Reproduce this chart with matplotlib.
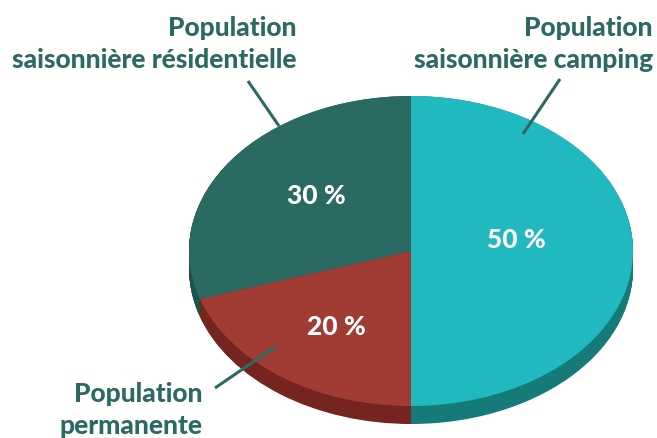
import numpy as np
import matplotlib.pyplot as plt

# données (parts de la population)
categories = ['Population\nsaisonnière camping', 'Population\npermanente',
              'Population\nsaisonnière résidentielle']
parts = [50, 20, 30]
etiquettes = ['50 %', '20 %', '30 %']

couleurs = ['#20b9c0', '#a13c34', '#2b6a62']
couleurs_cote = ['#167a78', '#76241f', '#1d524c']
texte_couleur = '#2b6a62'

W, H = 657, 439
cx, cy, rx, ry = 411, 252, 222, 155   # ellipse du dessus, en pixels
epaisseur = 18


def px(x, y):
    """pixels image -> unités du camembert"""
    return (x - cx) / rx, (cy - y) / ry


fig = plt.figure(figsize=(W / 100, H / 100), dpi=100)
ax = fig.add_axes([0, 0, 1, 1])

# côté du camembert (couches empilées)
for dz in np.linspace(epaisseur / ry, 0, 25):
    ax.pie(parts, colors=couleurs_cote, startangle=90, counterclock=False,
           center=(0, -dz), radius=1, wedgeprops=dict(linewidth=0))

# dessus
wedges, _ = ax.pie(parts, colors=couleurs, startangle=90, counterclock=False,
                   radius=1, wedgeprops=dict(linewidth=0))

ax.set_aspect('auto')
x0, y0 = px(0, H)
x1, y1 = px(W, 0)
ax.set_xlim(x0, x1)
ax.set_ylim(y0, y1)
ax.axis('off')

police = 'Lato'

# pourcentages
pos_pct = [(516, 240), (336, 327), (316, 196)]
for lab, (x, y) in zip(etiquettes, pos_pct):
    ax.text(*px(x, y), lab, color='white', fontsize=19, fontweight='black',
            family=police, ha='center', va='center')

# étiquettes extérieures
pos_lab = [(653, 44, 'right'), (203, 410, 'right'), (297, 44, 'right')]
for lab, (x, y, ha) in zip(categories, pos_lab):
    ax.text(*px(x, y), lab, color=texte_couleur, fontsize=19, fontweight='black',
            family=police, ha=ha, va='center', linespacing=1.42)

# traits de rappel
traits = [((560, 80), (523, 135)), ((215, 389), (275, 348)),
          ((248, 82), (279, 127))]
for (xa, ya), (xb, yb) in traits:
    pa, pb = px(xa, ya), px(xb, yb)
    ax.plot([pa[0], pb[0]], [pa[1], pb[1]], color=texte_couleur, lw=2.2,
            solid_capstyle='butt')

fig.savefig('out.png', dpi=100)
